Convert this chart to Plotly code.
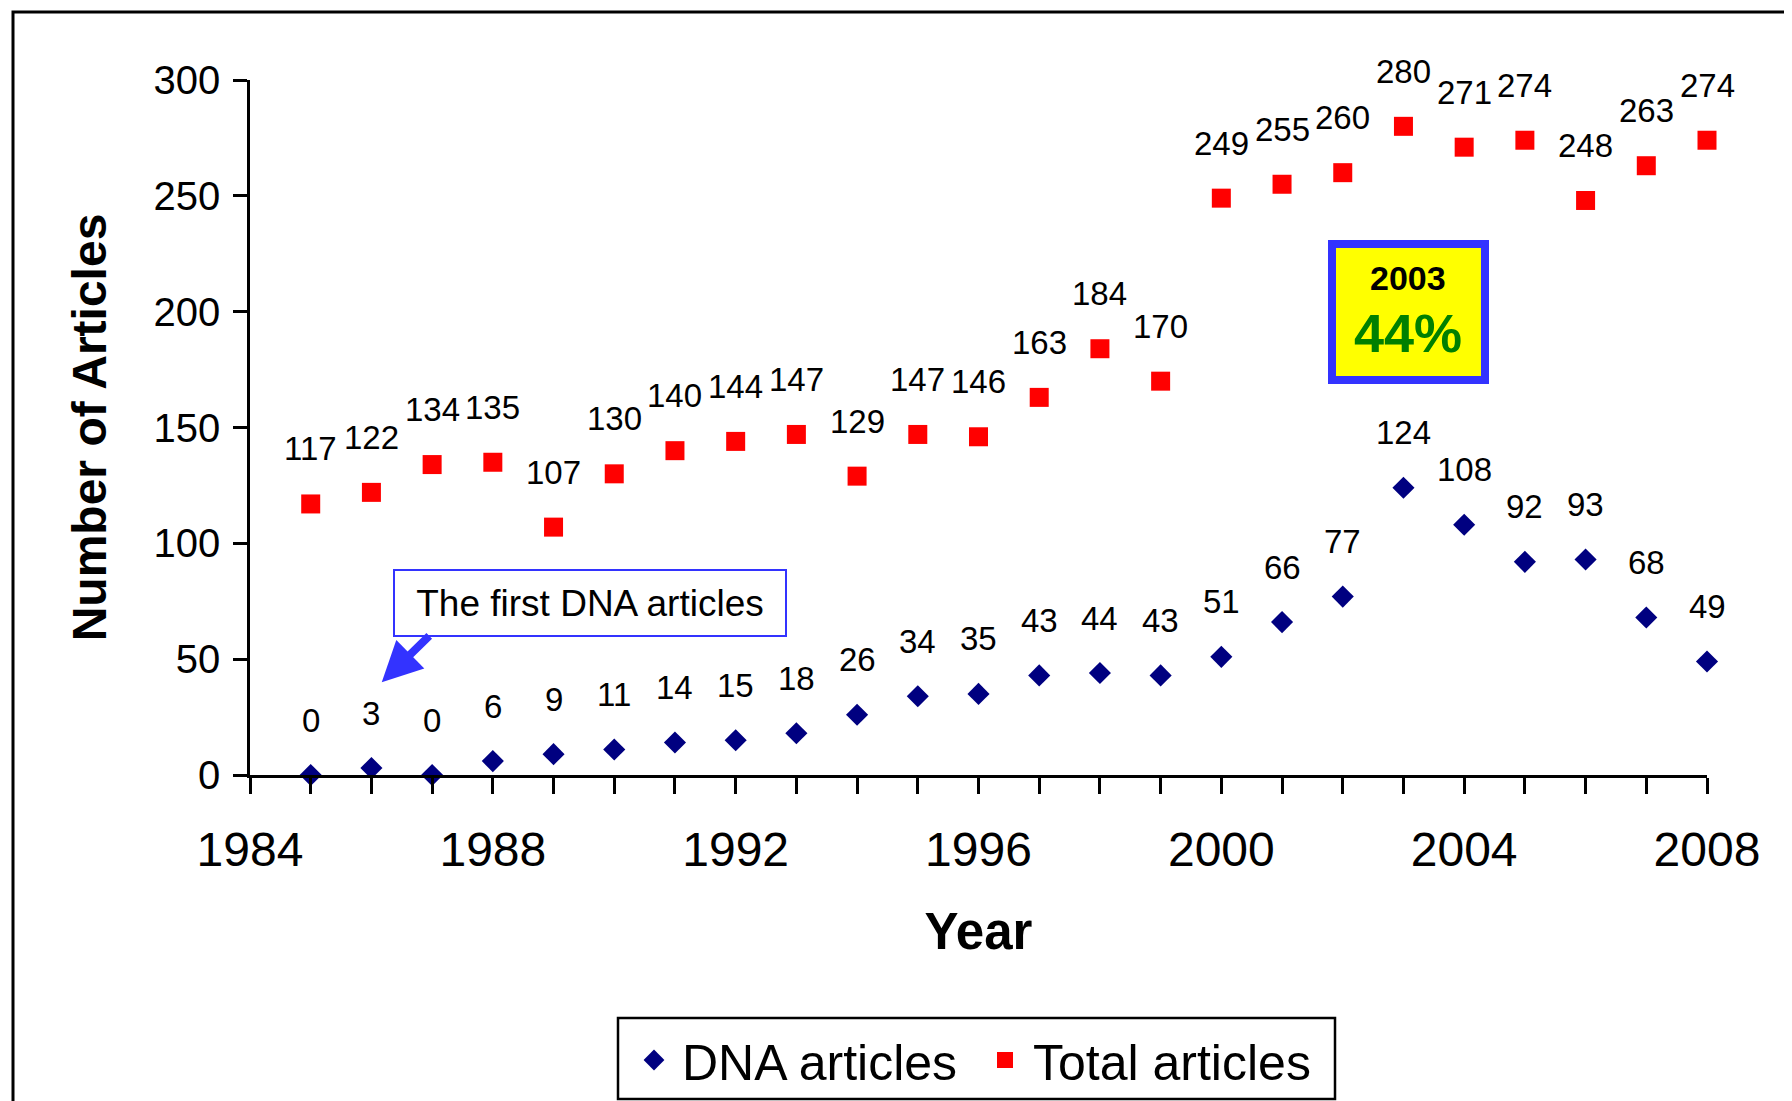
import plotly.graph_objects as go

# ---------------- data ----------------
years = list(range(1985, 2009))
dna_articles = [0, 3, 0, 6, 9, 11, 14, 15, 18, 26, 34, 35, 43, 44, 43,
                51, 66, 77, 124, 108, 92, 93, 68, 49]
total_articles = [117, 122, 134, 135, 107, 130, 140, 144, 147, 129, 147, 146, 163,
                  184, 170, 249, 255, 260, 280, 271, 274, 248, 263, 274]
x_tick_years = list(range(1984, 2009))
x_tick_labels = [str(y) if y % 4 == 0 else "" for y in x_tick_years]
y_tick_values = [0, 50, 100, 150, 200, 250, 300]
series_names = ["DNA articles", "Total articles"]
callout_text = "The first DNA articles"
callout_year = 1986
callout_value = dna_articles[years.index(callout_year)]
highlight_year = "2003"
highlight_share = "44%"

FONT = "Liberation Sans, Arial, Helvetica, sans-serif"
OFF = 8  # page body margin
W, H = 1784, 1180
L, R, T, B = 242, 85, 72, 413
PW, PH = W - L - R, H - T - B


def px_x(page_x):
    return (page_x - OFF - L) / PW


def px_y(page_y):
    return (H - B - (page_y - OFF)) / PH


fig = go.Figure()
fig.add_trace(go.Scatter(
    x=years, y=dna_articles, mode="markers", name=series_names[0],
    marker=dict(symbol="diamond", size=17, color="#000080"),
    cliponaxis=False))
fig.add_trace(go.Scatter(
    x=years, y=total_articles, mode="markers", name=series_names[1],
    marker=dict(symbol="square", size=19, color="#FF0000"),
    cliponaxis=False))

# data labels
for series in (dna_articles, total_articles):
    for x, y in zip(years, series):
        fig.add_annotation(x=x, y=y, text=str(y), showarrow=False,
                           xanchor="center", yanchor="middle", yshift=55,
                           font=dict(family=FONT, size=33, color="black"))

shapes = [
    # outer frame
    dict(type="rect", xref="paper", yref="paper",
         x0=px_x(13), x1=px_x(1840), y0=px_y(1170), y1=px_y(12),
         line=dict(color="black", width=3), layer="below"),
    # legend frame
    dict(type="rect", xref="paper", yref="paper",
         x0=px_x(618), x1=px_x(1335), y0=px_y(1099), y1=px_y(1018),
         line=dict(color="black", width=2.5), layer="below"),
    # yellow highlight box
    dict(type="rect", xref="paper", yref="paper",
         x0=px_x(1332), x1=px_x(1485), y0=px_y(380), y1=px_y(244),
         fillcolor="#FFFF00", line=dict(color="#3333FF", width=8)),
]

fig.add_annotation(xref="paper", yref="paper", x=px_x(1408), y=px_y(278),
                   text="<b>" + highlight_year + "</b>", showarrow=False,
                   xanchor="center", yanchor="middle",
                   font=dict(family=FONT, size=34, color="black"))
fig.add_annotation(xref="paper", yref="paper", x=px_x(1408), y=px_y(333),
                   text="<b>" + highlight_share + "</b>", showarrow=False,
                   xanchor="center", yanchor="middle",
                   font=dict(family=FONT, size=54, color="#008000"))

# callout box
fig.add_annotation(xref="paper", yref="paper", x=px_x(590), y=px_y(603),
                   text=callout_text, showarrow=False,
                   xanchor="center", yanchor="middle",
                   width=388, height=62, borderpad=1,
                   bgcolor="white", bordercolor="#3333FF", borderwidth=2,
                   font=dict(family=FONT, size=37, color="black"))
# callout arrow
fig.add_annotation(x=callout_year + 0.17, y=callout_value + 37, text="",
                   showarrow=True, ax=49, ay=-48,
                   arrowhead=2, arrowsize=1, arrowwidth=8,
                   arrowcolor="#3333FF")

fig.update_layout(
    width=W, height=H,
    margin=dict(l=L, r=R, t=T, b=B, pad=0),
    paper_bgcolor="white", plot_bgcolor="white",
    font=dict(family=FONT, color="black"),
    shapes=shapes,
    showlegend=True,
    legend=dict(orientation="h", x=px_x(626), xanchor="left",
                y=px_y(1021), yanchor="top",
                bgcolor="rgba(0,0,0,0)", borderwidth=0,
                font=dict(family=FONT, size=50, color="black"),
                itemsizing="trace", itemwidth=46,
                entrywidth=290, entrywidthmode="pixels"),
    xaxis=dict(range=[1984, 2008], tickmode="array",
               tickvals=x_tick_years, ticktext=x_tick_labels,
               ticks="outside", ticklen=16, tickwidth=2.5, tickcolor="black",
               showline=True, linecolor="black", linewidth=2.5,
               showgrid=False, zeroline=False,
               tickfont=dict(family=FONT, size=48, color="black"),
               ticklabelstandoff=15,
               title=dict(text="<b>Year</b>", standoff=38,
                          font=dict(family=FONT, size=51, color="black")),
               automargin=False),
    yaxis=dict(range=[0, 300], tickmode="array", tickvals=y_tick_values,
               ticks="outside", ticklen=14, tickwidth=2.5, tickcolor="black",
               showline=True, linecolor="black", linewidth=2.5,
               showgrid=False, zeroline=False,
               tickfont=dict(family=FONT, size=40, color="black"),
               ticklabelstandoff=5,
               title=dict(text="<b>Number of Articles</b>", standoff=32,
                          font=dict(family=FONT, size=48, color="black")),
               automargin=False),
)

fig.write_html("out.html")
